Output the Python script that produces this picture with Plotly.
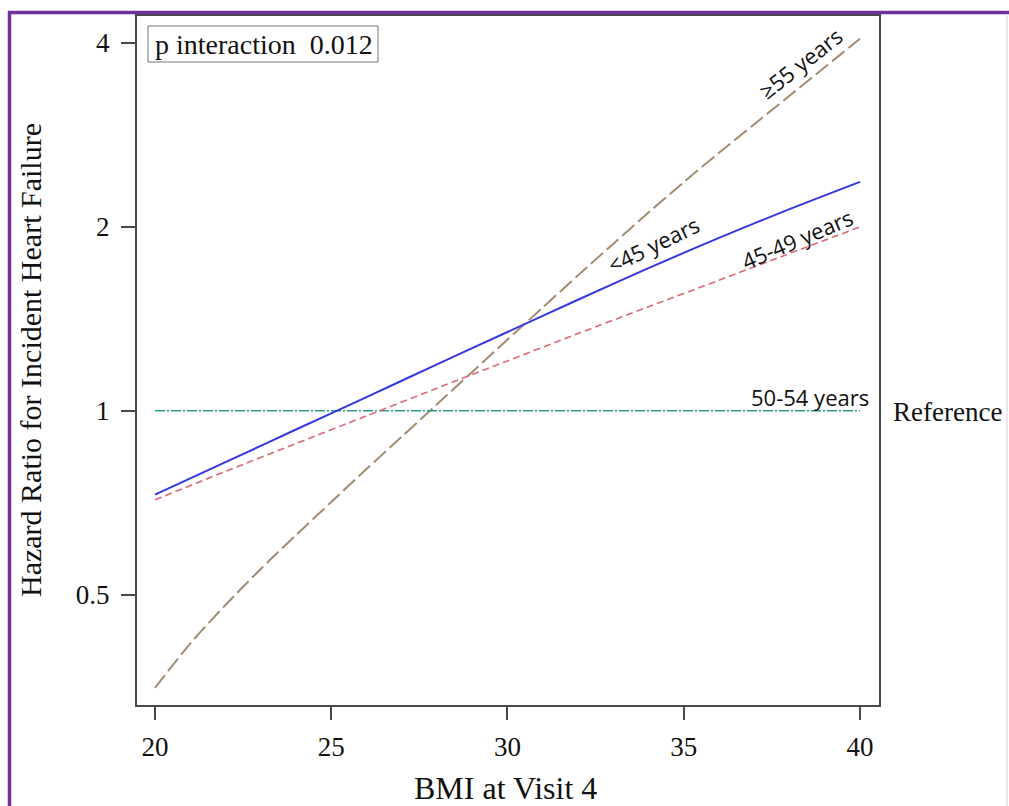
import math
import plotly.graph_objects as go

# ---------------- data ----------------
bmi = [20, 22, 24, 26, 28, 30, 32, 34, 36, 38, 40]
hr_lt45 = [0.729, 0.824, 0.932, 1.053, 1.191, 1.346, 1.520, 1.712, 1.919, 2.138, 2.370]
hr_45_49 = [0.715, 0.796, 0.884, 0.981, 1.089, 1.207, 1.338, 1.480, 1.636, 1.809, 2.000]
hr_50_54 = [1.0, 1.0, 1.0, 1.0, 1.0, 1.0, 1.0, 1.0, 1.0, 1.0, 1.0]

bmi_fine = [20, 21, 22, 23, 24, 25, 26, 27, 28, 29, 30, 31, 32, 33, 34, 35, 36, 37, 38, 39, 40]
hr_ge55 = [0.352, 0.416, 0.481, 0.551, 0.626, 0.709, 0.803, 0.907, 1.025, 1.158, 1.308,
           1.476, 1.666, 1.876, 2.111, 2.367, 2.644, 2.944, 3.279, 3.650, 4.064]

x_ticks = [20, 25, 30, 35, 40]
y_ticks = [0.5, 1, 2, 4]
y_tick_text = ["0.5", "1", "2", "4"]

p_text = "p interaction\u00a0\u00a00.012"

# ---------------- layout geometry (pixels) ----------------
W, H = 1009, 806
L, R, T, B = 137, 130, 16, 101
PW, PH = W - L - R, H - T - B


def px(xp):
    return (xp - L) / PW


def py(yp):
    return (H - B - yp) / PH


SERIF = "Liberation Serif, Times New Roman, serif"
SANS = "Open Sans, Liberation Sans, sans-serif"
AX = "#4a4a4a"

fig = go.Figure()

fig.add_trace(go.Scatter(x=bmi_fine, y=hr_ge55, mode="lines", name="≥55 years",
                         line=dict(color="#a48b70", width=2, dash="16px,5px",
                                   shape="spline", smoothing=0.8)))
fig.add_trace(go.Scatter(x=bmi, y=hr_50_54, mode="lines", name="50-54 years",
                         line=dict(color="#2a9d8f", width=1.6, dash="10px,2px,2px,2px")))
fig.add_trace(go.Scatter(x=bmi, y=hr_45_49, mode="lines", name="45-49 years",
                         line=dict(color="#dc6a74", width=1.6, dash="7px,4px",
                                   shape="spline", smoothing=0.8)))
fig.add_trace(go.Scatter(x=bmi, y=hr_lt45, mode="lines", name="<45 years",
                         line=dict(color="#3636e0", width=2,
                                   shape="spline", smoothing=0.8)))

# reference line at HR = 1 across full plot width
fig.add_shape(type="line", xref="x domain", yref="y", x0=0, x1=1, y0=0, y1=0,
              line=dict(color="#9a9a9a", width=1), layer="below")

# p interaction box
fig.add_shape(type="rect", xref="paper", yref="paper",
              x0=px(148), x1=px(378), y0=py(62), y1=py(26),
              line=dict(color="#777777", width=1), fillcolor="white")
fig.add_annotation(xref="paper", yref="paper", x=px(264), y=py(44), text=p_text,
                   showarrow=False, font=dict(family=SERIF, size=28, color="#111"),
                   xanchor="center", yanchor="middle")

# curve labels (log axis -> annotation y in log10)
labels = [
    ("≥55 years", 38.3, 3.71, -38),
    ("<45 years", 34.15, 1.875, -26),
    ("45-49 years", 38.2, 1.91, -23),
    ("50-54 years", 38.58, 1.055, 0),
]
for txt, xv, yv, ang in labels:
    fig.add_annotation(x=xv, y=math.log10(yv), xref="x", yref="y", text=txt,
                       showarrow=False, textangle=ang,
                       font=dict(family=SANS, size=22, color="#111"),
                       xanchor="center", yanchor="middle")

fig.add_annotation(xref="paper", yref="paper", x=px(948), y=py(412), text="Reference",
                   showarrow=False, font=dict(family=SERIF, size=27, color="#111"),
                   xanchor="center", yanchor="middle")

# axis titles
fig.add_annotation(xref="paper", yref="paper", x=px(30), y=py(360),
                   text="Hazard Ratio for Incident Heart Failure", textangle=-90,
                   showarrow=False, font=dict(family=SERIF, size=30, color="#111"),
                   xanchor="center", yanchor="middle")
fig.add_annotation(xref="paper", yref="paper", x=px(505), y=py(788),
                   text="BMI at Visit 4", showarrow=False,
                   font=dict(family=SERIF, size=32, color="#111"),
                   xanchor="center", yanchor="middle")

# purple frame
PURPLE = "#7030a0"
fig.add_shape(type="line", xref="paper", yref="paper", x0=px(9.5), x1=px(9.5),
              y0=py(11), y1=py(H), line=dict(color=PURPLE, width=3.5))
fig.add_shape(type="line", xref="paper", yref="paper", x0=px(8), x1=px(W),
              y0=py(12.5), y1=py(12.5), line=dict(color=PURPLE, width=3.5))
fig.add_shape(type="line", xref="paper", yref="paper", x0=px(1007), x1=px(1007),
              y0=py(14), y1=py(H), line=dict(color="#e6def0", width=1.5))

fig.update_layout(
    width=W, height=H,
    margin=dict(l=L, r=R, t=T, b=B, pad=0),
    paper_bgcolor="white", plot_bgcolor="white",
    showlegend=False,
    xaxis=dict(range=[19.49, 40.54], tickvals=x_ticks, ticks="outside", ticklen=13,
               tickwidth=1.5, tickcolor=AX, showline=True, linecolor=AX, linewidth=2,
               mirror=True, showgrid=False, zeroline=False, ticklabelstandoff=4,
               tickfont=dict(family=SERIF, size=27, color="#111")),
    yaxis=dict(type="log", range=[math.log10(0.330), math.log10(4.428)],
               tickvals=y_ticks, ticktext=y_tick_text, ticks="outside", ticklen=14,
               tickwidth=1.5, tickcolor=AX, showline=True, linecolor=AX, linewidth=2,
               mirror=True, showgrid=False, zeroline=False, ticklabelstandoff=6,
               tickfont=dict(family=SERIF, size=27, color="#111")),
)

fig.write_html("out.html")
